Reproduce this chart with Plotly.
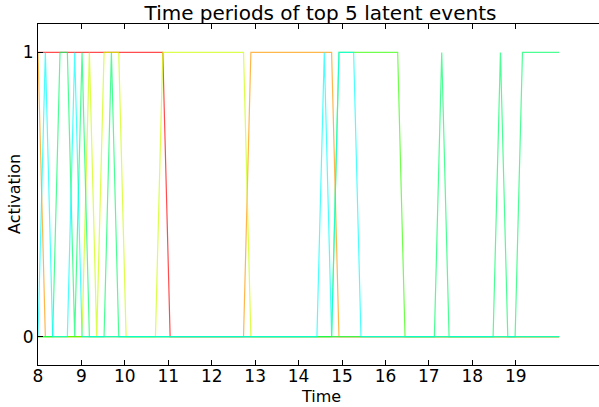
import numpy as np
import plotly.graph_objects as go

# Sample times (72 samples between 8 and 20)
time = np.linspace(8, 20, 72)

x_ticks = list(range(8, 20))
y_ticks = [0, 1]

red = [1]*18 + [0]*54
orange = [1] + [0]*28 + [1]*12 + [0]*31
yellow = [0]*7 + [1] + [0] + [1]*3 + [0]*5 + [1]*12 + [0]*43
lightgreen = [0]*41 + [1]*9 + [0]*22
green = ([0]*3 + [1, 1] + [0] + [1] + [0]*3 + [1] + [0]*44 + [1] + [0]*7 + [1] + [0]*2 + [1]*6)
cyan = [0, 1, 0, 0, 0, 1] + [0]*33 + [1] + [0] + [1]*3 + [0]*28

series = [
    ("event 1", red, "rgba(255,0,0,0.7)"),
    ("event 2", orange, "rgba(255,153,0,0.7)"),
    ("event 3", yellow, "rgba(204,255,0,0.7)"),
    ("event 4", lightgreen, "rgba(51,255,0,0.7)"),
    ("event 5", green, "rgba(0,255,102,0.7)"),
    ("event 6", cyan, "rgba(0,255,255,0.7)"),
]

FONT = "DejaVu Sans"

fig = go.Figure()
for name, vals, color in series:
    fig.add_trace(go.Scatter(x=time, y=vals, mode="lines", name=name,
                             line=dict(color=color, width=1.2), showlegend=False))

W, H = 599, 407
L, R, T, B = 38, 0, 24, 42
plot_w = W - L - R
plot_h = H - T - B
x_max = 8 + plot_w / 43.43

def px_to_paper_x(px):
    return (px - L) / plot_w

def px_to_paper_y(py):
    return (H - B - py) / plot_h

fig.update_layout(
    width=W, height=H,
    margin=dict(l=L, r=R, t=T, b=B),
    paper_bgcolor="white", plot_bgcolor="white",
    font=dict(family=FONT, color="black"),
    title=dict(text="Time periods of top 5 latent events",
               font=dict(family=FONT, size=20, color="black"),
               x=px_to_paper_x(320.5), xref="paper", xanchor="center",
               y=1 - 13 / H, yref="container", yanchor="middle"),
    xaxis=dict(range=[8, x_max], tickvals=x_ticks, ticks="inside", ticklen=5,
               tickcolor="black", showline=True, linecolor="black", linewidth=1,
               mirror="ticks", showgrid=False, zeroline=False,
               ticklabelstandoff=-4,
               tickfont=dict(family=FONT, size=17, color="black")),
    yaxis=dict(range=[-0.1, 1.1], tickvals=y_ticks, ticks="inside", ticklen=5,
               tickcolor="black", showline=True, linecolor="black", linewidth=1,
               mirror=False, showgrid=False, zeroline=False,
               tickfont=dict(family=FONT, size=17, color="black")),
    annotations=[
        dict(text="Time", x=px_to_paper_x(320.5), y=px_to_paper_y(396),
             xref="paper", yref="paper", xanchor="center", yanchor="middle",
             showarrow=False, font=dict(family=FONT, size=16, color="black")),
        dict(text="Activation", x=px_to_paper_x(14), y=px_to_paper_y(194),
             xref="paper", yref="paper", xanchor="center", yanchor="middle",
             textangle=-90, showarrow=False,
             font=dict(family=FONT, size=16, color="black")),
    ],
)

fig.write_html("out.html")
